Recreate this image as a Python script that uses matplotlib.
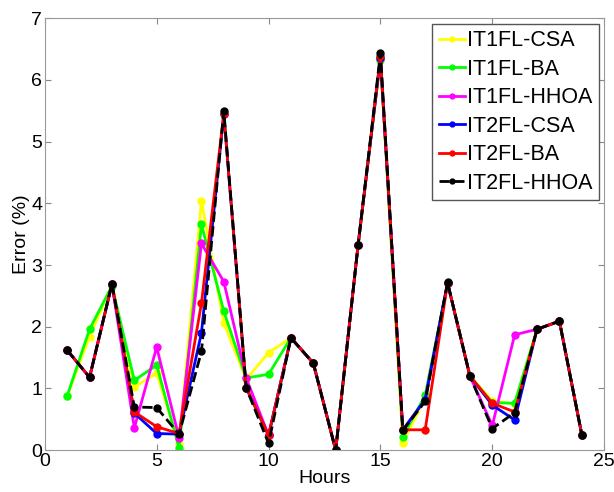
import matplotlib
matplotlib.use("Agg")
import matplotlib.pyplot as plt
import numpy as np

plt.rcParams['font.family'] = ['Liberation Sans', 'DejaVu Sans']

# Hourly forecast error (%) for each model
hours = np.arange(1, 25)

it1_csa = [0.88, 1.84, 2.68, 1.02, 1.25, 0.10, 4.04, 2.06, 1.15, 1.58, 1.82, 1.41,
           0.00, 3.32, 6.33, 0.12, 0.85, 2.71, 1.20, 0.80, 0.75, 1.96, 2.09, 0.25]
it1_ba = [0.88, 1.96, 2.66, 1.13, 1.38, 0.03, 3.66, 2.25, 1.17, 1.23, 1.82, 1.41,
          0.00, 3.32, 6.33, 0.22, 0.89, 2.71, 1.20, 0.77, 0.76, 1.96, 2.09, 0.25]
it1_hhoa = [1.62, 1.18, 2.69, 0.36, 1.67, 0.20, 3.35, 2.73, 1.17, 0.24, 1.82, 1.41,
            0.00, 3.32, 6.35, 0.32, 0.82, 2.71, 1.20, 0.40, 1.87, 1.96, 2.09, 0.25]
it2_csa = [1.62, 1.18, 2.69, 0.60, 0.27, 0.26, 1.90, 5.45, 1.01, 0.24, 1.82, 1.41,
           0.00, 3.32, 6.36, 0.33, 0.82, 2.71, 1.20, 0.73, 0.49, 1.96, 2.09, 0.25]
it2_ba = [1.62, 1.18, 2.69, 0.62, 0.38, 0.27, 2.38, 5.45, 1.01, 0.24, 1.82, 1.41,
          0.00, 3.32, 6.38, 0.33, 0.33, 2.71, 1.20, 0.76, 0.62, 1.96, 2.09, 0.25]
it2_hhoa = [1.62, 1.18, 2.70, 0.70, 0.69, 0.26, 1.60, 5.50, 1.01, 0.11, 1.82, 1.41,
            0.00, 3.32, 6.43, 0.32, 0.79, 2.72, 1.20, 0.35, 0.61, 1.96, 2.09, 0.25]

series = [
    ('IT1FL-CSA', it1_csa, '#ffff00', '-'),
    ('IT1FL-BA', it1_ba, '#00ff00', '-'),
    ('IT1FL-HHOA', it1_hhoa, '#ff00ff', '-'),
    ('IT2FL-CSA', it2_csa, '#0000ff', '-'),
    ('IT2FL-BA', it2_ba, '#ff0000', '-'),
    ('IT2FL-HHOA', it2_hhoa, '#000000', '--'),
]

fig = plt.figure(figsize=(6.14, 4.92), dpi=100)
ax = fig.add_axes([0.073, 0.085, 0.911, 0.878])

for name, vals, col, ls in series:
    ax.plot(hours, vals, ls, color=col, lw=2, marker='o', ms=5, label=name)

ax.set_xlim(0, 25)
ax.set_ylim(0, 7)
ax.set_xticks([0, 5, 10, 15, 20, 25])
ax.set_yticks(range(8))
ax.tick_params(direction='in', top=True, right=True, labelsize=14, color='#888888',
               length=4, pad=2)
for s in ax.spines.values():
    s.set_color('#999999')

ax.set_xlabel('Hours', fontsize=14, labelpad=0)
ax.set_ylabel('Error (%)', fontsize=14, labelpad=1)

leg = ax.legend(loc='upper right', fontsize=15.5, handlelength=1.2, handletextpad=0.1,
                borderaxespad=0.25, borderpad=0.3, labelspacing=0.35, fancybox=False,
                framealpha=1, markerscale=0.7)
leg.get_frame().set_edgecolor('#555555')
leg.get_frame().set_linewidth(1)

fig.savefig('out.png', dpi=100)
